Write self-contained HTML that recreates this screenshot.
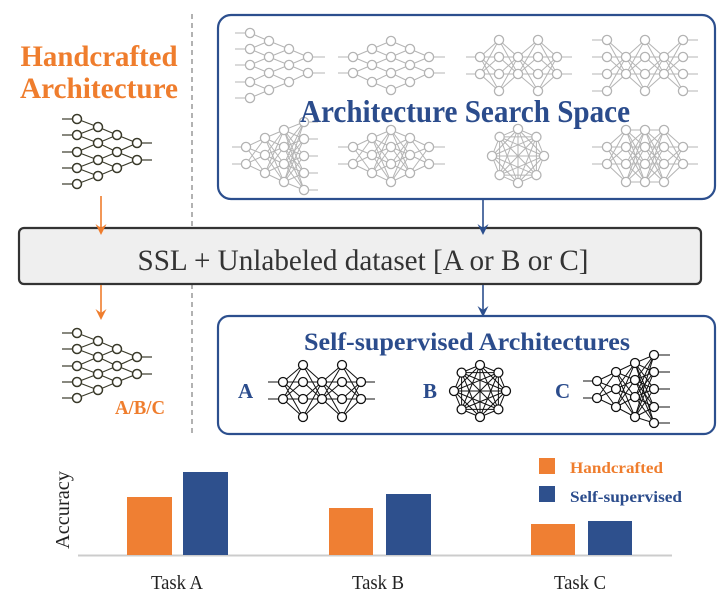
<!DOCTYPE html>
<html><head><meta charset="utf-8"><style>
html,body{margin:0;padding:0;background:#fff;}
svg{display:block;}
</style></head><body>
<svg id="s" width="720" height="599" viewBox="0 0 720 599" xmlns="http://www.w3.org/2000/svg">
<line x1="192" y1="14" x2="192" y2="436" stroke="#888" stroke-width="1.3" stroke-dasharray="5,4"/>
<rect x="218" y="15" width="497" height="184" rx="13" fill="none" stroke="#2c4f8e" stroke-width="2.2"/>
<rect x="218" y="316" width="497" height="118" rx="11" fill="none" stroke="#2c4f8e" stroke-width="2.2"/>
<rect x="19" y="228" width="682" height="56" rx="5" fill="#efefef" stroke="#333" stroke-width="2.2"/>
<g id="nets"></g>
<text x="465" y="122" font-family="Liberation Serif, serif" font-weight="bold" font-size="32" fill="#2b4c8c" text-anchor="middle" textLength="330" lengthAdjust="spacingAndGlyphs">Architecture Search Space</text>
<text x="99" y="66" font-family="Liberation Serif, serif" font-weight="bold" font-size="30" fill="#ef7d2d" text-anchor="middle" textLength="157" lengthAdjust="spacingAndGlyphs">Handcrafted</text>
<text x="99" y="98" font-family="Liberation Serif, serif" font-weight="bold" font-size="30" fill="#ef7d2d" text-anchor="middle" textLength="158" lengthAdjust="spacingAndGlyphs">Architecture</text>
<line x1="101" y1="196" x2="101" y2="230" stroke="#ef7d2d" stroke-width="1.6"/>
<polygon points="95.5,224 101,235 106.5,224 101,228" fill="#ef7d2d"/>
<line x1="101" y1="285" x2="101" y2="315" stroke="#ef7d2d" stroke-width="1.6"/>
<polygon points="95.5,309 101,320 106.5,309 101,313" fill="#ef7d2d"/>
<line x1="483" y1="199" x2="483" y2="230" stroke="#2c4f8e" stroke-width="1.6"/>
<polygon points="477.5,224 483,235 488.5,224 483,228" fill="#2c4f8e"/>
<line x1="483" y1="285" x2="483" y2="312" stroke="#2c4f8e" stroke-width="1.6"/>
<polygon points="477.5,306 483,317 488.5,306 483,310" fill="#2c4f8e"/>
<text x="363" y="270" font-family="Liberation Serif, serif" font-size="30" fill="#333" text-anchor="middle" textLength="451" lengthAdjust="spacingAndGlyphs">SSL + Unlabeled dataset [A or B or C]</text>
<text x="467" y="350" font-family="Liberation Serif, serif" font-weight="bold" font-size="25" fill="#2b4c8c" text-anchor="middle" textLength="326" lengthAdjust="spacingAndGlyphs">Self-supervised Architectures</text>
<text x="238" y="398" font-family="Liberation Serif, serif" font-weight="bold" font-size="21" fill="#2b4c8c">A</text>
<text x="423" y="398" font-family="Liberation Serif, serif" font-weight="bold" font-size="21" fill="#2b4c8c">B</text>
<text x="555" y="398" font-family="Liberation Serif, serif" font-weight="bold" font-size="21" fill="#2b4c8c">C</text>
<text x="115" y="414" font-family="Liberation Serif, serif" font-weight="bold" font-size="20" fill="#ef7d2d" textLength="50" lengthAdjust="spacingAndGlyphs">A/B/C</text>
<line x1="78" y1="555.5" x2="672" y2="555.5" stroke="#ccc" stroke-width="2"/>
<rect x="127" y="497" width="45" height="58" fill="#ef7f33"/>
<rect x="183" y="472" width="45" height="83" fill="#2e508d"/>
<rect x="329" y="508" width="44" height="47" fill="#ef7f33"/>
<rect x="386" y="494" width="45" height="61" fill="#2e508d"/>
<rect x="531" y="524" width="44" height="31" fill="#ef7f33"/>
<rect x="588" y="521" width="44" height="34" fill="#2e508d"/>
<text transform="translate(69,510) rotate(-90)" font-family="Liberation Serif, serif" font-size="20" fill="#222" text-anchor="middle" textLength="78" lengthAdjust="spacingAndGlyphs">Accuracy</text>
<text x="177" y="589" font-family="Liberation Serif, serif" font-size="20" fill="#222" text-anchor="middle" textLength="52" lengthAdjust="spacingAndGlyphs">Task A</text>
<text x="378" y="589" font-family="Liberation Serif, serif" font-size="20" fill="#222" text-anchor="middle" textLength="52" lengthAdjust="spacingAndGlyphs">Task B</text>
<text x="580" y="589" font-family="Liberation Serif, serif" font-size="20" fill="#222" text-anchor="middle" textLength="52" lengthAdjust="spacingAndGlyphs">Task C</text>
<rect x="539" y="458" width="16" height="16" fill="#ef7f33"/>
<rect x="539" y="486" width="16" height="16" fill="#2e508d"/>
<text x="570" y="473" font-family="Liberation Serif, serif" font-weight="bold" font-size="16" fill="#ef7d2d" textLength="93" lengthAdjust="spacingAndGlyphs">Handcrafted</text>
<text x="570" y="502" font-family="Liberation Serif, serif" font-weight="bold" font-size="16" fill="#2b4c8c" textLength="112" lengthAdjust="spacingAndGlyphs">Self-supervised</text>
</svg>
<script>
var NS="http://www.w3.org/2000/svg",G=document.getElementById("nets");
function el(t,a){var e=document.createElementNS(NS,t);for(var k in a)e.setAttribute(k,a[k]);G.appendChild(e);return e;}
function net(layers,col,mode,x0,x1,inYs,outYs,r,sw){
  r=r||4.3;sw=sw||1;
  var li=layers;
  (inYs||[]).forEach(function(y){el("line",{x1:x0,y1:y,x2:li[0][0],y2:y,stroke:col,"stroke-width":sw});});
  (outYs||[]).forEach(function(y){var L=li[li.length-1];el("line",{x1:L[0],y1:y,x2:x1,y2:y,stroke:col,"stroke-width":sw});});
  for(var i=0;i<li.length-1;i++){
    var a=li[i],b=li[i+1];
    a[1].forEach(function(ya){b[1].forEach(function(yb){
      if(mode=="near"&&Math.abs(ya-yb)>12)return;
      el("line",{x1:a[0],y1:ya,x2:b[0],y2:yb,stroke:col,"stroke-width":sw});});});
  }
  li.forEach(function(L){L[1].forEach(function(y){el("circle",{cx:L[0],cy:y,r:r,fill:"#fff",stroke:col,"stroke-width":sw+0.3});});});
}
function oct(cx,cy,rx,ry,col,r,sw){
  var p=[];for(var i=0;i<8;i++){var a=i*Math.PI/4;p.push([cx+rx*Math.sin(a),cy-ry*Math.cos(a)]);}
  for(i=0;i<8;i++)for(var j=i+1;j<8;j++)el("line",{x1:p[i][0],y1:p[i][1],x2:p[j][0],y2:p[j][1],stroke:col,"stroke-width":sw});
  p.forEach(function(q){el("circle",{cx:q[0],cy:q[1],r:r,fill:"#fff",stroke:col,"stroke-width":sw+0.3});});
}
var D="#3a3a2a",Gr="#b4b4b4";
function hand(dy){
  var L1=[119,135,152,168,184].map(function(v){return v+dy;}),
      L2=[127,143,160,176].map(function(v){return v+dy;}),
      L3=[135,152,168].map(function(v){return v+dy;}),
      L4=[143,160].map(function(v){return v+dy;});
  net([[77,L1],[98,L2],[117,L3],[137,L4]],D,"near",62,152,L1,L4,4.5,1.2);
}
hand(0);hand(214);
net([[250,[33,49,65,82,98]],[269,[41,57,73,90]],[289,[49,65,82]],[308,[57,73]]],Gr,"near",235,325,[33,49,65,82,98],[57,73],4.6,1);
net([[353,[57,73]],[372,[49,65,82]],[391,[41,57,73,90]],[410,[49,65,82]],[429,[57,73]]],Gr,"near",338,445,[57,73],[57,73],4.6,1);
net([[480,[57,74]],[499,[40,57,74,91]],[518,[57,74]],[538,[40,57,74,91]],[557,[57,74]]],Gr,"full",466,572,[57,74],[57,74],4.6,1);
net([[607,[40,57,74,91]],[626,[57,74]],[645,[40,57,74,91]],[664,[57,74]],[683,[40,57,74,91]]],Gr,"full",592,698,[40,57,74,91],[40,57,74,91],4.6,1);
net([[246,[147,164]],[265,[138,155,173]],[284,[130,147,164,182]],[304,[122,139,156,173,190]]],Gr,"full",232,318,[147,164],[122,139,156,173,190],4.6,1);
net([[353,[147,164]],[372,[138,155,173]],[391,[130,147,164,182]],[410,[138,155,173]],[429,[147,164]]],Gr,"full",338,445,[147,164],[147,164],4.6,1);
oct(518,156,26,27,Gr,4.6,1);
net([[607,[147,164]],[626,[130,147,164,182]],[645,[130,147,164,182]],[664,[130,147,164,182]],[683,[147,164]]],Gr,"full",592,698,[147,164],[147,164],4.6,1);
var K="#111";
net([[283,[382,399]],[303,[365,382,399,417]],[322,[382,399]],[342,[365,382,399,417]],[361,[382,399]]],K,"full",268,375,[382,399],[382,399],4.5,1);
oct(480,391,26,26,K,4.5,1);
net([[597,[381,398]],[616,[372,389,407]],[635,[363,380,397,417]],[654,[355,372,389,407,423]]],K,"full",583,670,[381,398],[355,372,389,407,423],4.5,1);
</script>
</body></html>
